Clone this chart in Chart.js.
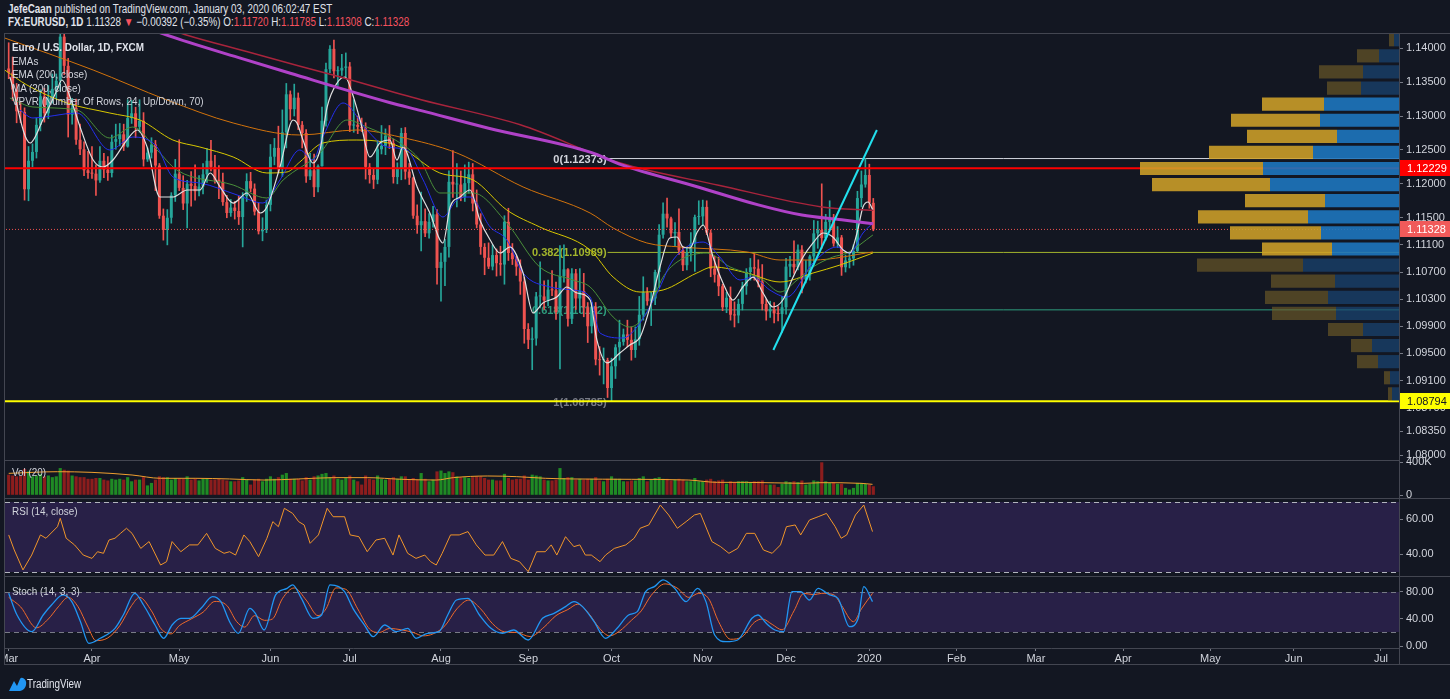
<!DOCTYPE html>
<html>
<head>
<meta charset="utf-8">
<title>EURUSD 1D</title>
<script src="https://cdn.jsdelivr.net/npm/chart.js@4.4.1/dist/chart.umd.min.js"></script>
<style>
  html, body { margin: 0; padding: 0; }
  body { width: 1450px; height: 699px; background: #131722; position: relative; overflow: hidden;
         font-family: "Liberation Sans", Arial, sans-serif; color: #d1d4dc; }
  canvas { position: absolute; }
  .txt { position: absolute; white-space: nowrap; font-size: 11px; line-height: 13px; transform-origin: 0 50%; }
  .hd { font-size: 12px; color: #e0e3eb; transform: scaleX(0.82); }
  .lg { transform: scaleX(0.9); }
  .dn { color: #f7525f; }
  .rule { position: absolute; background: #434651; }
</style>
</head>
<body>

<div class="txt hd" style="left:8px;top:3px"><b>JefeCaan</b> published on TradingView.com, January 03, 2020 06:02:47 EST</div>
<div class="txt hd" style="left:8px;top:16px"><b>FX:EURUSD, 1D</b> 1.11328 <span class="dn">▼</span> −0.00392 (−0.35%) O:<span class="dn">1.11720</span> H:<span class="dn">1.11785</span> L:<span class="dn">1.11308</span> C:<span class="dn">1.11328</span></div>

<canvas id="price" width="1445" height="426" style="left:5px;top:34px"></canvas>
<canvas id="vp" width="1394" height="426" style="left:5px;top:34px"></canvas>
<canvas id="vol" width="1445" height="43" style="left:5px;top:455px"></canvas>
<canvas id="rsi" width="1445" height="77" style="left:5px;top:499px"></canvas>
<canvas id="stoch" width="1445" height="88" style="left:5px;top:577px"></canvas>

<div class="rule" style="left:4px;top:33px;width:1446px;height:1px"></div>
<div class="rule" style="left:4px;top:33px;width:1px;height:632px"></div>
<div class="rule" style="left:4px;top:460px;width:1395px;height:1px"></div>
<div class="rule" style="left:4px;top:498px;width:1446px;height:1px"></div>
<div class="rule" style="left:4px;top:576px;width:1446px;height:1px"></div>
<div class="rule" style="left:4px;top:664px;width:1446px;height:1px"></div>
<div class="rule" style="left:1399px;top:33px;width:1px;height:632px"></div>

<div class="txt lg" style="left:12px;top:41px;color:#e0e3eb"><b>Euro / U.S. Dollar, 1D, FXCM</b></div>
<div class="txt lg" style="left:12px;top:55px">EMAs</div>
<div class="txt lg" style="left:12px;top:68px">EMA (200, close)</div>
<div class="txt lg" style="left:12px;top:82px">MA (200, close)</div>
<div class="txt lg" style="left:12px;top:95px">VPVR (Number Of Rows, 24, Up/Down, 70)</div>
<div class="txt lg" style="left:12px;top:466px">Vol (20)</div>
<div class="txt lg" style="left:12px;top:505px">RSI (14, close)</div>
<div class="txt lg" style="left:12px;top:585px">Stoch (14, 3, 3)</div>

<svg style="position:absolute;left:8px;top:676px" width="20" height="16" viewBox="0 0 20 16">
  <path d="M1 15 L6 5 L9 10 L12 3 Q13 1 15 2 Q19 4 18 9 Q17 14 12 15 Z" fill="#2196f3"/>
</svg>
<div class="txt hd" style="left:27px;top:678px">TradingView</div>

<script>
// --------------------
// Time axis: month ticks (bar index of the first trading day of each month)
// --------------------
const monthLabels = ['Mar', 'Apr', 'May', 'Jun', 'Jul', 'Aug', 'Sep', 'Oct', 'Nov', 'Dec', '2020', 'Feb', 'Mar', 'Apr', 'May', 'Jun', 'Jul'];
const monthStart = [0, 21, 43, 66, 86, 109, 131, 152, 175, 196, 217, 239, 259, 281, 303, 324, 346];

// --------------------
// Daily candles, 1 Mar 2019 .. 3 Jan 2020 (219 bars)
// --------------------
const open = [
  1.1370,1.1364,1.1339,1.1307,1.1306,1.1192,1.1234,1.1247,1.1287,1.1329,1.1304,1.1326,1.1340,1.1352,1.1417,1.1374,1.1302,1.1312,1.1265,1.1251,1.1220,
  1.1216,1.1215,1.1205,1.1234,1.1221,1.1216,1.1262,1.1266,1.1273,1.1255,1.1297,1.1304,1.1284,1.1293,1.1236,1.1246,1.1258,1.1227,1.1153,1.1132,1.1150,1.1183,
  1.1215,1.1194,1.1171,1.1200,1.1197,1.1189,1.1196,1.1214,1.1234,1.1225,1.1206,1.1203,1.1173,1.1157,1.1165,1.1160,1.1151,1.1182,1.1204,1.1193,1.1159,1.1130,1.1132,
  1.1169,1.1240,1.1253,1.1223,1.1276,1.1332,1.1310,1.1327,1.1287,1.1275,1.1211,1.1220,1.1195,1.1226,1.1293,1.1369,1.1399,1.1366,1.1367,1.1371,
  1.1373,1.1286,1.1287,1.1284,1.1282,1.1225,1.1213,1.1206,1.1251,1.1256,1.1271,1.1260,1.1210,1.1223,1.1275,1.1218,1.1209,1.1153,1.1139,1.1145,1.1127,1.1144,1.1155,
  1.1076,1.1085,1.1107,1.1203,1.1199,1.1199,1.1180,1.1201,1.1214,1.1171,1.1140,1.1107,1.1091,1.1078,1.1095,1.1083,1.1081,1.1144,1.1098,1.1089,1.1078,1.1056,
  1.0986,1.0970,1.0972,1.1034,1.1034,1.1028,1.1044,1.1043,1.1011,1.1064,1.1074,1.1001,1.1068,1.1031,1.1042,1.1018,1.0990,1.1019,1.0941,1.0940,1.0940,
  1.0899,1.0931,1.0959,1.0967,1.0978,1.0970,1.0955,1.0971,1.1007,1.1040,1.1027,1.1031,1.1070,1.1125,1.1156,1.1149,1.1127,1.1129,1.1102,1.1080,1.1098,1.1112,1.1151,
  1.1152,1.1166,1.1128,1.1075,1.1066,1.1049,1.1018,1.1032,1.1007,1.1006,1.1023,1.1049,1.1070,1.1077,1.1075,1.1056,1.1023,1.1012,1.1015,1.1009,1.1008,
  1.1018,1.1078,1.1082,1.1077,1.1103,1.1059,1.1065,1.1093,1.1127,1.1132,1.1120,1.1144,1.1150,1.1112,1.1121,1.1077,1.1087,1.1090,1.1101,1.1179,1.1199,
  1.1213,1.11720
];
const high = [
  1.1408,1.1387,1.1348,1.1321,1.1312,1.1255,1.1259,1.1297,1.1339,1.1341,1.1345,1.1362,1.1362,1.1422,1.1448,1.1385,1.1326,1.1325,1.1288,1.1262,1.1248,
  1.1255,1.1228,1.1255,1.1245,1.1240,1.1272,1.1288,1.1289,1.1288,1.1324,1.1323,1.1313,1.1324,1.1305,1.1253,1.1268,1.1264,1.1230,1.1163,1.1162,1.1187,1.1236,
  1.1265,1.1212,1.1205,1.1218,1.1228,1.1212,1.1230,1.1252,1.1264,1.1242,1.1227,1.1216,1.1183,1.1177,1.1174,1.1182,1.1187,1.1215,1.1217,1.1200,1.1172,1.1150,1.1176,
  1.1258,1.1267,1.1285,1.1309,1.1348,1.1337,1.1347,1.1334,1.1292,1.1280,1.1245,1.1244,1.1228,1.1313,1.1378,1.1404,1.1412,1.1373,1.1391,1.1393,
  1.1379,1.1324,1.1300,1.1297,1.1290,1.1230,1.1223,1.1264,1.1286,1.1281,1.1286,1.1266,1.1231,1.1282,1.1283,1.1230,1.1210,1.1169,1.1188,1.1163,1.1156,1.1167,1.1162,
  1.1098,1.1118,1.1219,1.1249,1.1230,1.1219,1.1228,1.1232,1.1230,1.1191,1.1156,1.1112,1.1113,1.1110,1.1104,1.1108,1.1153,1.1164,1.1112,1.1093,1.1088,1.1062,
  1.0994,1.0988,1.1040,1.1085,1.1057,1.1058,1.1072,1.1055,1.1109,1.1110,1.1075,1.1075,1.1074,1.1075,1.1068,1.1025,1.1025,1.1025,1.0960,1.0958,1.0943,
  1.0943,1.0963,1.0999,1.0986,1.0999,1.0989,1.0989,1.1034,1.1063,1.1047,1.1040,1.1073,1.1140,1.1172,1.1179,1.1151,1.1143,1.1163,1.1108,1.1106,1.1128,1.1154,1.1175,
  1.1176,1.1175,1.1132,1.1093,1.1092,1.1052,1.1040,1.1048,1.1026,1.1030,1.1055,1.1075,1.1090,1.1097,1.1088,1.1081,1.1030,1.1027,1.1025,1.1019,1.1034,
  1.1090,1.1093,1.1116,1.1110,1.1109,1.1087,1.1095,1.1146,1.1145,1.1200,1.1155,1.1175,1.1155,1.1137,1.1124,1.1095,1.1098,1.1110,1.1189,1.1219,1.12373,
  1.1229,1.11785
];
const low = [
  1.1355,1.1323,1.1290,1.1290,1.1176,1.1175,1.1225,1.1238,1.1278,1.1291,1.1296,1.1319,1.1325,1.1337,1.1361,1.1269,1.1288,1.1258,1.1243,1.1212,1.1208,
  1.1208,1.1183,1.1202,1.1209,1.1205,1.1210,1.1251,1.1256,1.1249,1.1254,1.1289,1.1268,1.1276,1.1226,1.1233,1.1238,1.1190,1.1149,1.1117,1.1110,1.1142,1.1174,
  1.1190,1.1162,1.1135,1.1167,1.1176,1.1182,1.1185,1.1202,1.1219,1.1201,1.1178,1.1168,1.1150,1.1152,1.1148,1.1140,1.1107,1.1174,1.1188,1.1154,1.1126,1.1116,1.1128,
  1.1160,1.1228,1.1217,1.1211,1.1253,1.1294,1.1300,1.1280,1.1253,1.1202,1.1206,1.1181,1.1188,1.1226,1.1285,1.1364,1.1356,1.1345,1.1360,1.1355,
  1.1277,1.1276,1.1274,1.1277,1.1207,1.1201,1.1193,1.1200,1.1244,1.1243,1.1252,1.1201,1.1200,1.1206,1.1207,1.1199,1.1149,1.1127,1.1101,1.1122,1.1120,1.1136,1.1052,
  1.1027,1.1050,1.1092,1.1180,1.1166,1.1175,1.1174,1.1186,1.1160,1.1135,1.1096,1.1066,1.1075,1.1073,1.1064,1.1065,1.1052,1.1087,1.1081,1.1065,1.1037,1.0965,
  1.0957,1.0926,1.0962,1.1017,1.1015,1.1020,1.1035,1.1000,1.0927,1.1055,1.0990,1.0994,1.1015,1.1010,1.1004,1.0966,1.0980,1.0933,1.0918,1.0905,1.0885,
  1.0879,1.0913,1.0940,1.0962,1.0960,1.0940,1.0944,1.0962,1.0999,1.1021,1.0991,1.1022,1.1047,1.1120,1.1136,1.1121,1.1109,1.1096,1.1072,1.1073,1.1086,1.1071,1.1140,
  1.1138,1.1125,1.1063,1.1055,1.1035,1.1013,1.1010,1.0999,1.0989,1.0995,1.1014,1.1037,1.1058,1.1058,1.1048,1.1014,1.0999,1.1003,1.0995,1.0998,1.0981,
  1.1008,1.1063,1.1068,1.1073,1.1039,1.1054,1.1058,1.1080,1.1105,1.1105,1.1117,1.1133,1.1108,1.1106,1.1065,1.1070,1.1076,1.1080,1.1100,1.1166,1.1195,
  1.1164,1.11308
];
const close = [
  1.1364,1.1339,1.1307,1.1306,1.1192,1.1234,1.1247,1.1287,1.1329,1.1304,1.1326,1.1340,1.1352,1.1417,1.1374,1.1302,1.1312,1.1265,1.1251,1.1220,1.1216,
  1.1215,1.1205,1.1234,1.1221,1.1216,1.1262,1.1266,1.1273,1.1255,1.1297,1.1304,1.1284,1.1293,1.1236,1.1246,1.1258,1.1227,1.1153,1.1132,1.1150,1.1183,1.1215,
  1.1194,1.1171,1.1200,1.1197,1.1189,1.1196,1.1214,1.1234,1.1225,1.1206,1.1203,1.1173,1.1157,1.1165,1.1160,1.1151,1.1182,1.1204,1.1193,1.1159,1.1130,1.1132,1.1169,
  1.1240,1.1253,1.1223,1.1276,1.1332,1.1310,1.1327,1.1287,1.1275,1.1211,1.1220,1.1195,1.1226,1.1293,1.1369,1.1399,1.1366,1.1367,1.1371,1.1373,
  1.1286,1.1287,1.1284,1.1282,1.1225,1.1213,1.1206,1.1251,1.1256,1.1271,1.1260,1.1210,1.1223,1.1275,1.1218,1.1209,1.1153,1.1139,1.1145,1.1127,1.1144,1.1155,1.1076,
  1.1085,1.1107,1.1203,1.1199,1.1199,1.1180,1.1201,1.1214,1.1171,1.1140,1.1107,1.1091,1.1078,1.1095,1.1083,1.1081,1.1144,1.1098,1.1089,1.1078,1.1056,1.0986,
  1.0970,1.0972,1.1034,1.1034,1.1028,1.1044,1.1043,1.1011,1.1064,1.1074,1.1001,1.1068,1.1031,1.1042,1.1018,1.0990,1.1019,1.0941,1.0940,1.0940,1.0899,
  1.0931,1.0959,1.0967,1.0978,1.0970,1.0955,1.0971,1.1007,1.1040,1.1027,1.1031,1.1070,1.1125,1.1156,1.1149,1.1127,1.1129,1.1102,1.1080,1.1098,1.1112,1.1151,1.1152,
  1.1166,1.1128,1.1075,1.1066,1.1049,1.1018,1.1032,1.1007,1.1006,1.1023,1.1049,1.1070,1.1077,1.1075,1.1056,1.1023,1.1012,1.1015,1.1009,1.1008,1.1018,
  1.1078,1.1082,1.1077,1.1103,1.1059,1.1065,1.1093,1.1127,1.1132,1.1120,1.1144,1.1150,1.1112,1.1121,1.1077,1.1087,1.1090,1.1101,1.1179,1.1199,1.1213,
  1.1172,1.11328
];
// volume in thousands
const volume = [
  250,240,230,235,320,290,230,240,260,230,240,220,230,330,310,300,240,230,220,220,200,
  200,210,210,190,180,200,190,200,190,220,170,190,190,220,120,150,190,230,220,220,190,210,
  210,200,230,190,200,180,200,210,190,190,200,190,180,170,170,180,220,190,130,190,200,170,200,
  230,200,220,250,270,200,200,200,180,220,190,230,240,260,270,220,240,200,190,210,
  240,190,170,130,240,200,190,240,200,190,200,220,200,230,230,190,210,190,270,200,170,190,290,
  300,270,290,280,230,220,220,210,220,230,230,210,190,190,180,180,260,210,190,200,200,240,
  190,250,240,230,190,180,180,190,330,210,220,220,190,200,190,200,200,220,180,170,200,
  230,200,200,170,170,180,180,210,230,170,190,210,220,200,200,180,190,200,190,170,170,210,170,
  170,190,200,170,180,190,140,170,160,170,170,170,160,170,170,180,130,130,130,100,140,
  170,160,170,160,180,130,140,180,170,400,170,150,160,140,140,90,70,90,150,150,140,
  130,110
];
// Vol(20) moving average, [bar, K]
const volMa = [[0,266],[12.3,286],[21,278],[31.1,246],[38.3,206],[47,206],[55.7,198],[64.4,185],[73.1,198],[81.8,214],
  [90.4,214],[99.1,194],[107.8,185],[112.1,214],[120.8,234],[128.1,226],[135.3,206],[142.5,198],[157,194],[171.5,185],
  [178.7,157],[186,157],[200.4,145],[204.8,153],[214.9,145],[217.8,133]];

// --------------------
// Moving averages, [bar, price]
// --------------------
const emaWhite = [[0.3,1.13575],[5.4,1.12602],[8.6,1.12941],[12.2,1.13383],[13.4,1.13531],[16,1.13192],[18,1.12838],[21.3,1.12351],
  [23.8,1.12248],[26.3,1.12351],[29.8,1.12646],[32.4,1.12794],[34.9,1.12543],[38.1,1.11806],[41.4,1.11806],[45,1.11909],[48.2,1.11909],
  [50.8,1.1216],[53.3,1.11954],[56.6,1.11717],[60.1,1.11865],[63.4,1.1157],[65.1,1.11659],[68.4,1.12248],[71.7,1.12941],[72.7,1.12897],
  [74.2,1.12646],[76.7,1.12307],[78.5,1.12499],[80.3,1.13133],[82.8,1.13487],[84.8,1.13575],[86.6,1.13339],[88.6,1.12941],[91.1,1.12396],
  [93.6,1.12602],[96.1,1.12646],[97.9,1.12351],[99.4,1.12543],[103,1.11954],[106.2,1.1157],[109.5,1.11128],[111.3,1.11659],[113.8,1.11806],
  [116.3,1.11909],[118.8,1.11467],[121.4,1.11172],[123.9,1.1098],[126.4,1.11069],[129.7,1.10685],[132.2,1.10096],[134.7,1.10243],
  [138.2,1.10331],[140.7,1.10479],[143.3,1.1039],[146.6,1.10287],[148.3,1.09698],[150.9,1.09359],[154.1,1.09506],[156.6,1.09624],
  [159.2,1.09741],[161.7,1.10184],[164.2,1.10774],[166.7,1.11201],[168.5,1.11216],[170,1.11069],[171.8,1.11054],[173.5,1.11275],
  [175.1,1.11393],[177.6,1.10921],[180.1,1.10538],[182.6,1.10287],[185.1,1.10479],[187.7,1.10626],[190.2,1.1039],[192.7,1.10184],
  [195.2,1.10287],[197.8,1.10626],[200.3,1.10921],[202.8,1.11128],[205.3,1.11275],[207.8,1.11216],[210.4,1.11025],[212.1,1.1098],
  [213.9,1.11275],[215.4,1.11659],[216.7,1.11732],[217.9,1.11614]];
const emaBlue = [[2.8,1.13088],[6.1,1.12971],[17.2,1.13044],[25.5,1.12499],[31.3,1.1269],[37.4,1.12543],[41.4,1.12101],[48.2,1.12012],
  [57.6,1.11836],[64.1,1.11717],[68.4,1.12057],[73.4,1.12499],[76.7,1.12351],[79.2,1.1269],[84.3,1.13192],[90.3,1.12794],[95.4,1.12543],
  [100.4,1.12499],[104.5,1.12057],[109.5,1.11511],[113,1.11762],[116.3,1.11806],[121.4,1.11364],[125.6,1.11172],[129.7,1.10685],
  [136.5,1.10479],[142.3,1.10435],[146.6,1.10331],[149.1,1.098],[154.9,1.09727],[158.4,1.09889],[163.5,1.1039],[167.5,1.10877],
  [175.1,1.11142],[179.3,1.10921],[184.4,1.10582],[187.7,1.10626],[191.9,1.10435],[196.2,1.10331],[202.8,1.10833],[208.8,1.11069],
  [212.1,1.1098],[215.4,1.11275],[217.9,1.11423]];
const emaGreen = [[0.3,1.13265],[6.1,1.13133],[17.2,1.13088],[25.5,1.12676],[31.3,1.12838],[37.4,1.12499],[42.4,1.12204],[56.6,1.11983],
  [65.1,1.11791],[69.2,1.12057],[78.5,1.12455],[85.3,1.12941],[90.3,1.12838],[98.7,1.12602],[103.7,1.12351],[108.7,1.11865],[117.1,1.11865],
  [125.6,1.11423],[133.9,1.10774],[142.3,1.10582],[146.6,1.10479],[152.4,1.10037],[156.6,1.09889],[160.9,1.10096],[165,1.10626],
  [169.3,1.10877],[176.1,1.1098],[181.9,1.10774],[186.2,1.10685],[190.2,1.10582],[194.5,1.10405],[198.8,1.10582],[202.8,1.10774],
  [207.8,1.10921],[211.4,1.1098],[217.9,1.11246]];
const emaYellow = [[-1,1.13678],[4.6,1.13457],[14.7,1.13192],[25.5,1.13044],[33.1,1.12941],[41.4,1.12646],[48.2,1.12543],[56.6,1.12396],
  [65.1,1.1216],[70.2,1.12175],[73.4,1.12322],[79.2,1.12602],[87.8,1.12646],[94.4,1.12617],[98.7,1.12543],[108.7,1.1216],[117.1,1.12057],
  [125.6,1.11614],[133.9,1.11364],[146.6,1.11025],[152.4,1.10626],[159.2,1.10405],[165,1.10435],[173.5,1.10685],[177.6,1.10774],
  [186.2,1.10685],[194.5,1.10553],[202.8,1.10685],[209.6,1.10803],[217.9,1.1098]];
const emaOrange = [[-1,1.1415],[21.3,1.13678],[39.9,1.13236],[56.6,1.12897],[73.4,1.1272],[87.8,1.12794],[98.7,1.1269],[113,1.12455],
  [129.7,1.11954],[146.6,1.1157],[152.4,1.11349],[160.9,1.11128],[169.3,1.11069],[186.2,1.10995],[194.5,1.10877],[202.8,1.10877],[217.9,1.10995]];
const ema200 = [[42,1.1425],[45,1.1419],[60,1.1395],[73,1.1374],[82,1.1360],[104,1.1324],[129,1.1287],[154,1.1231],[179,1.1198],[205,1.1166],[218,1.1161]];
const ma200 = [[36,1.1428],[39,1.1421],[58,1.1386],[71,1.1363],[96,1.1320],[104,1.1308],[121,1.1282],[147,1.1246],[154,1.1229],[174,1.1195],
  [189,1.1169],[200,1.1154],[210,1.1147],[218,1.1141]];

// trend line drawn on the chart, [bar, price]
const trendLine = [[192.8,1.0955],[218.9,1.12794]];

// fibonacci retracement (Oct 1 low -> Dec 31 high)
const fibRatio = ['0', '0.382', '0.618', '1'];
const fibPrice = [1.12373, 1.10989, 1.10142, 1.08785];
const fibColor = ['#d1d4dc', '#a3b52c', '#2e9d7d', '#787b86'];
const fibFrom = 151;

// horizontal levels: resistance, last price, support
const levelPrice = [1.12229, 1.11328, 1.08794];

// volume profile (24 rows over the visible range), up / down volume per row, bottom row first
const vpLow = 1.08785, vpHigh = 1.1448;
const vpUp   = [7, 9, 21, 27, 36, 63, 71, 64, 96, 67, 78, 91, 74, 129, 136, 86, 62, 79, 75, 38, 36, 20, 5, 3];
const vpDown = [4, 6, 21, 21, 35, 64, 63, 64, 106, 70, 91, 110, 80, 118, 123, 104, 90, 89, 62, 34, 44, 22, 5, 3];
const vpValueArea = [9, 18]; // first and last row inside the 70% value area

// RSI(14), [bar, value]
const rsi = [[0,50.9],[1.4,42.3],[3.6,30.9],[5.8,39.4],[8,50.9],[9.4,49],[12.3,55.6],[13,60.4],[14.5,49],[16.6,45.2],[18.8,39.4],
  [21,37.5],[22.4,41.3],[23.9,40.4],[25.3,48],[26.8,49],[28.2,51.8],[29.7,54.7],[31.1,51.8],[33.3,43.2],[35.4,47.1],[38.3,33.7],
  [39.8,35.6],[41.2,47.1],[43.4,41.3],[45.6,45.2],[47.7,45.2],[49.9,51.8],[52.1,43.2],[54.3,40.4],[55.7,41.3],[57.2,39.4],[59.3,50.9],
  [60.8,47.1],[63,38.5],[65.1,49],[66.6,58.5],[68,55.6],[69.5,66.1],[71.6,63.2],[73.1,58.5],[74.5,56.6],[76,46.1],[78.1,50.9],
  [80.3,66.1],[81.8,61.3],[84.7,61.3],[86.1,50.9],[88.3,49.9],[90.4,41.3],[92.6,48],[94.8,49],[96.9,39.4],[98.4,50.9],[100.6,40.4],
  [102.7,37.5],[104.9,39.4],[106.4,35.6],[107.8,33.7],[109.3,40.4],[111.4,50.9],[113.6,50.9],[115.8,52.8],[117.9,45.2],[120.1,39.4],
  [122.3,39.4],[124.5,47.1],[126.6,37.5],[128.8,35.6],[131,29.9],[133.1,41.3],[135.3,41.3],[136.8,45.2],[138.2,39.4],[140.4,49.9],
  [142.5,44.2],[144,45.2],[145.4,39.4],[146.9,39.4],[149.1,35.6],[150.5,39.4],[152.7,43.2],[155.6,45.2],[157.7,49],[159.2,54.7],
  [161.4,56.6],[164.3,68],[166.4,62.3],[168.6,54.7],[170.8,58.5],[172.9,62.3],[174.4,63.2],[177.3,47.1],[179.5,44.2],[181.6,40.4],
  [183.8,43.2],[186,51.8],[188.1,51.8],[190.3,42.3],[192.5,40.4],[194.6,45.2],[196.1,55.6],[198.3,56.6],[199.7,50.9],[201.9,59.4],
  [204.1,61.3],[206.2,63.2],[208.4,55.6],[209.9,49],[211.3,50.9],[213.5,62.3],[215.6,68],[217.8,52.8]];

// Stochastic(14,3,3) %K and %D, [bar, value]
const stochK = [[0,78],[2.1,45.9],[5.8,21.2],[8.7,45.9],[10.8,60.7],[13.7,75.6],[15.9,65.7],[18.1,36],[20.2,3.9],[23.1,11.4],
  [26.8,26.2],[28.9,45.9],[31.8,78],[34,60.7],[36.9,31.1],[39.1,11.4],[41.2,31.1],[43.4,41],[45.6,41],[48.5,55.8],[51.4,73.1],
  [53.5,65.7],[55.7,36],[57.9,18.8],[60.8,55.8],[62.2,48.4],[64.4,23.7],[67.3,75.6],[70.2,85.4],[71.6,90.4],[73.8,70.6],[76.7,41],
  [78.9,45.9],[81,90.4],[83.2,87.9],[84.7,80.5],[86.8,55.8],[89.7,31.1],[91.9,13.8],[94.8,31.1],[97.7,21.2],[100.6,26.2],[102.7,11.4],
  [105.6,18.8],[108.5,21.2],[110.7,45.9],[112.9,68.1],[115.8,70.6],[118.7,45.9],[121.6,26.2],[124.5,18.8],[127.3,23.7],[131,8.9],
  [134.6,41],[137.5,48.4],[140.4,58.3],[142.5,65.7],[144.7,58.3],[147.6,36],[150.5,11.4],[153.4,26.2],[156.3,45.9],[158.5,50.9],
  [160.6,80.5],[162.8,87.9],[165,97.8],[167.9,85.4],[170.8,65.7],[173.7,85.4],[175.8,65.7],[178,16.3],[180.9,6.4],[183.8,8.9],
  [187.4,41],[188.9,45.9],[191,33.6],[193.2,23.7],[195.4,21.2],[197.5,80.5],[199.7,80.5],[201.9,68.1],[204.1,85.4],[207,75.6],
  [209.1,70.6],[212,28.6],[214.2,41],[215.6,87.9],[217.8,65.7]];
const stochD = [[0,72],[3,58],[7,27],[10,40],[12.5,58],[15,72],[17.5,58],[20,28],[22,8],[25,12],[28,30],[31,60],[33,72],[36,52],
  [38.5,25],[41,18],[43,30],[46,40],[49,50],[52,66],[55,60],[57.5,36],[59.5,28],[62,45],[64.5,38],[66.5,40],[69,70],[72,86],[75,68],
  [78,45],[80,55],[82.5,86],[85,84],[88,55],[91,25],[93.5,20],[96,26],[99,24],[102,20],[104.5,15],[107,18],[110,30],[113,55],[116,68],
  [119,55],[122,33],[125,21],[128,20],[131.5,14],[135,28],[138,45],[141,54],[143.5,62],[146,50],[149,26],[151.5,15],[154,22],[157,38],
  [159.5,52],[162,75],[165.5,92],[168.5,86],[171.5,72],[174,78],[176.5,70],[179,36],[182,10],[185,14],[188,35],[190,40],[192.5,32],
  [195,24],[198,52],[200.5,78],[203,76],[205,78],[208,76],[210,60],[213,36],[215,55],[217.8,78]];

// --------------------
// Scales shared by the panes
// --------------------
const X_MIN = -0.93, X_MAX = 350.55;
const P_MIN = 1.079285, P_MAX = 1.14209;
const priceTicks = [1.08, 1.0835, 1.087, 1.091, 1.095, 1.099, 1.103, 1.107, 1.111, 1.115, 1.12, 1.125, 1.13, 1.135, 1.14];
const AXIS_W = 51;
const FONT = { family: '"Liberation Sans", Arial, sans-serif', size: 11 };

const UP = '#26a69a', DOWN = '#ef5350';
const bars = close.map((_, i) => i);
const isUp = bars.map(i => close[i] >= open[i]);
const pts = arr => arr.map(([x, y]) => ({ x, y }));

// labels must not shrink the plot area, panes have to line up exactly
function noPad(s) { s.paddingTop = 0; s.paddingBottom = 0; s.paddingLeft = 0; s.paddingRight = 0; }

function xAxis(show) {
  const ax = { type: 'linear', min: X_MIN, max: X_MAX, offset: false, display: show, grid: { display: false } };
  if (show) {
    Object.assign(ax, {
      afterBuildTicks: s => { s.ticks = monthStart.map(v => ({ value: v })); },
      afterFit: s => { s.height = 17; noPad(s); },
      ticks: { autoSkip: false, maxRotation: 0, color: '#d1d4dc', font: FONT, padding: 1, callback: (v, i) => monthLabels[i] },
      grid: { display: true, drawOnChartArea: false, drawTicks: true, tickLength: 3, color: '#787b86' },
      border: { display: true, color: '#434651' }
    });
  }
  return ax;
}

function yAxis(min, max, ticks, fmt) {
  return {
    type: 'linear', position: 'right', min, max,
    afterFit: s => { s.width = AXIS_W; noPad(s); },
    afterBuildTicks: s => { s.ticks = ticks.map(v => ({ value: v })); },
    ticks: { color: '#d1d4dc', font: FONT, padding: 3, callback: fmt },
    grid: { drawOnChartArea: false, drawTicks: true, tickLength: 4, color: '#787b86' },
    border: { display: false }
  };
}

const baseOptions = {
  responsive: false, animation: false, devicePixelRatio: 1,
  layout: { padding: 0 },
  plugins: { legend: { display: false }, tooltip: { enabled: false } }
};

function line(data, color, width, extra) {
  return Object.assign({ type: 'line', data: pts(data), borderColor: color, borderWidth: width, pointRadius: 0,
    cubicInterpolationMode: 'monotone', fill: false }, extra || {});
}

// --------------------
// Plugins: fib labels, price axis tags, oscillator bands
// --------------------
const fibLabels = {
  id: 'fibLabels',
  beforeDatasetsDraw(chart) {
    const { ctx, scales: { x, y } } = chart;
    ctx.save();
    ctx.font = 'bold 11px "Liberation Sans", Arial, sans-serif';
    ctx.textAlign = 'right';
    ctx.textBaseline = 'middle';
    fibPrice.forEach((p, i) => {
      ctx.fillStyle = fibColor[i];
      ctx.fillText(`${fibRatio[i]}(${p.toFixed(5)})`, x.getPixelForValue(fibFrom) - 1, y.getPixelForValue(p) + 1);
    });
    ctx.restore();
  }
};

const priceTags = {
  id: 'priceTags',
  afterDraw(chart) {
    const { ctx, chartArea: a, scales: { y } } = chart;
    const style = [['#ff0000', '#ffffff'], ['#f05a5a', '#ffffff'], ['#ffff00', '#131722']];
    ctx.save();
    ctx.font = '11px "Liberation Sans", Arial, sans-serif';
    ctx.textBaseline = 'middle';
    ctx.textAlign = 'left';
    levelPrice.forEach((p, i) => {
      const py = Math.round(y.getPixelForValue(p));
      ctx.fillStyle = style[i][0];
      ctx.fillRect(a.right + 1, py - 8, AXIS_W - 1, 16);
      ctx.fillStyle = style[i][1];
      ctx.fillText(p.toFixed(5), a.right + 8, py + 1);
    });
    ctx.restore();
  }
};

function bandPlugin(lo, hi, dashColor) {
  return {
    id: 'band',
    beforeDatasetsDraw(chart) {
      const { ctx, chartArea: a, scales: { y } } = chart;
      const y1 = Math.round(y.getPixelForValue(hi)), y2 = Math.round(y.getPixelForValue(lo));
      ctx.save();
      ctx.fillStyle = 'rgba(103, 58, 183, 0.25)';
      ctx.fillRect(a.left, y1, a.right - a.left, y2 - y1);
      ctx.strokeStyle = dashColor;
      ctx.lineWidth = 1;
      ctx.setLineDash([5, 4]);
      [y1, y2].forEach(py => {
        ctx.beginPath(); ctx.moveTo(a.left, py + 0.5); ctx.lineTo(a.right, py + 0.5); ctx.stroke();
      });
      ctx.restore();
    }
  };
}

// --------------------
// Price pane
// --------------------
const fibSets = fibPrice.slice(0, 3).map((p, i) => ({
  type: 'line', data: [{ x: fibFrom, y: p }, { x: X_MAX, y: p }], borderColor: fibColor[i], borderWidth: 1, pointRadius: 0, order: 20
}));

new Chart(document.getElementById('price'), {
  type: 'bar',
  data: {
    datasets: [
      ...fibSets,
      { type: 'bar', data: bars.map(i => ({ x: i, y: [low[i], high[i]] })), backgroundColor: bars.map(i => isUp[i] ? UP : DOWN),
        barThickness: 1, grouped: false, order: 12 },
      { type: 'bar', data: bars.map(i => ({ x: i, y: [open[i], close[i]] })), backgroundColor: bars.map(i => isUp[i] ? UP : DOWN),
        barPercentage: 0.75, categoryPercentage: 1, minBarLength: 1, grouped: false, order: 11 },
      line(emaOrange, '#d2730c', 1, { order: 9 }),
      line(emaYellow, '#d8c800', 1, { order: 8 }),
      line(emaGreen, '#4a8f3a', 1, { order: 7 }),
      line(emaBlue, '#2430f0', 1, { order: 6 }),
      line(emaWhite, '#e0e0e0', 1.2, { order: 5 }),
      line(ema200, '#a8243c', 1.5, { order: 4 }),
      line(ma200, '#b042c8', 3, { order: 3 }),
      line(trendLine, '#22e0ee', 2, { order: 1, cubicInterpolationMode: 'default', tension: 0 })
    ]
  },
  options: Object.assign({}, baseOptions, {
    scales: { x: xAxis(false), y: yAxis(P_MIN, P_MAX, priceTicks, v => v.toFixed(5)) }
  }),
  plugins: [fibLabels, priceTags]
});

// --------------------
// Volume profile overlay (right side of the price pane) + horizontal levels
// --------------------
const vpStep = (vpHigh - vpLow) / vpUp.length;
const vpRows = vpUp.map((_, i) => vpLow + (i + 0.5) * vpStep);
const inVA = i => i >= vpValueArea[0] && i <= vpValueArea[1];
const VP_MAX = 1394;

new Chart(document.getElementById('vp'), {
  type: 'bar',
  data: {
    datasets: [
      { data: vpRows.map((r, i) => ({ y: r, x: vpUp[i] })), backgroundColor: vpUp.map((_, i) => inVA(i) ? 'rgba(30,118,190,0.9)' : 'rgba(26,70,115,0.7)'),
        barPercentage: 0.93, categoryPercentage: 1, grouped: false },
      { data: vpRows.map((r, i) => ({ y: r, x: [vpUp[i], vpUp[i] + vpDown[i]] })), backgroundColor: vpDown.map((_, i) => inVA(i) ? 'rgba(206,160,40,0.88)' : 'rgba(110,90,40,0.65)'),
        barPercentage: 0.93, categoryPercentage: 1, grouped: false },
      { type: 'line', indexAxis: 'x', data: [{ x: 0, y: levelPrice[0] }, { x: VP_MAX, y: levelPrice[0] }], borderColor: '#ff0000', borderWidth: 2, pointRadius: 0 },
      { type: 'line', indexAxis: 'x', data: [{ x: 0, y: levelPrice[1] }, { x: VP_MAX, y: levelPrice[1] }], borderColor: '#ef5350', borderWidth: 1, borderDash: [1, 2], pointRadius: 0 },
      { type: 'line', indexAxis: 'x', data: [{ x: 0, y: levelPrice[2] }, { x: VP_MAX, y: levelPrice[2] }], borderColor: '#ffff00', borderWidth: 2, pointRadius: 0 }
    ]
  },
  options: Object.assign({}, baseOptions, {
    indexAxis: 'y',
    scales: {
      x: { type: 'linear', reverse: true, min: 0, max: VP_MAX, display: false },
      y: { type: 'linear', min: P_MIN, max: P_MAX, offset: false, display: false }
    }
  })
});

// --------------------
// Volume pane (canvas starts 6px above the pane so the 400K label is not cut)
// --------------------
new Chart(document.getElementById('vol'), {
  type: 'bar',
  data: {
    datasets: [
      line(volMa, '#f0a030', 1, { order: 1 }),
      { type: 'bar', data: bars.map(i => ({ x: i, y: volume[i] })), backgroundColor: bars.map(i => isUp[i] ? '#1f8a24' : '#8c1d1d'),
        barPercentage: 0.8, categoryPercentage: 1, order: 2 }
    ]
  },
  options: Object.assign({}, baseOptions, {
    layout: { padding: { top: 6 } },
    scales: { x: xAxis(false), y: yAxis(-32.7, 415.8, [0, 400], v => v === 0 ? '0' : v + 'K') }
  })
});

// --------------------
// RSI pane
// --------------------
new Chart(document.getElementById('rsi'), {
  type: 'line',
  data: { datasets: [line(rsi, '#f0962a', 1, { cubicInterpolationMode: 'default', tension: 0 })] },
  options: Object.assign({}, baseOptions, {
    scales: { x: xAxis(false), y: yAxis(27.43, 71.43, [40, 60], v => v.toFixed(2)) }
  }),
  plugins: [bandPlugin(30, 70, '#b2b5be')]
});

// --------------------
// Stochastic pane + time axis
// --------------------
new Chart(document.getElementById('stoch'), {
  type: 'line',
  data: {
    datasets: [
      line(stochD, '#f06a2a', 1, { order: 2 }),
      line(stochK, '#2196f3', 1.3, { order: 1 })
    ]
  },
  options: Object.assign({}, baseOptions, {
    scales: { x: xAxis(true), y: yAxis(-2.96, 102.2, [0, 40, 80], v => v.toFixed(2)) }
  }),
  plugins: [bandPlugin(20, 80, '#787b86')]
});
</script>
</body>
</html>
